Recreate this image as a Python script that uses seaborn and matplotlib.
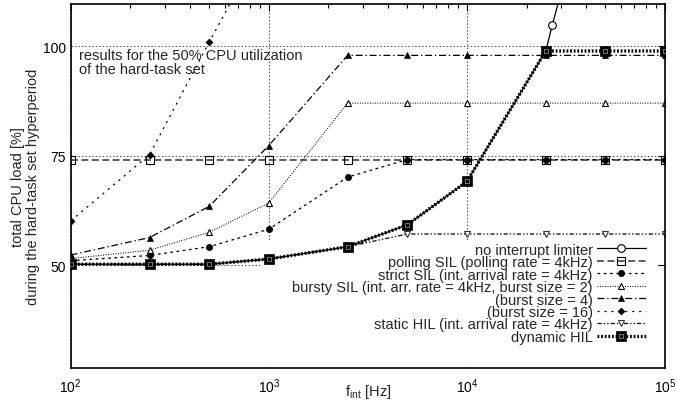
import matplotlib
matplotlib.use('Agg')
import matplotlib.pyplot as plt
import seaborn as sns
import pandas as pd
from matplotlib.legend_handler import HandlerTuple
from matplotlib.patches import Rectangle

# interrupt frequencies [Hz]
freq = [100, 250, 500, 1000, 2500, 5000, 10000, 25000, 50000, 100000]
no_limiter_freq = [100, 250, 500, 1000, 2500, 5000, 10000, 25000, 27000, 50000]
burst16_freq = [100, 250, 500, 1000]

# total CPU load [%]
no_limiter = [50.2, 50.2, 50.2, 51.4, 54.2, 59.2, 69.1, 98.9, 104.9, 150.0]
polling_sil = [74.1, 74.1, 74.1, 74.1, 74.1, 74.1, 74.1, 74.1, 74.1, 74.1]
strict_sil = [51.0, 52.2, 54.2, 58.2, 70.1, 74.1, 74.1, 74.1, 74.1, 74.1]
bursty_2 = [51.5, 53.4, 57.5, 64.2, 87.0, 87.0, 87.0, 87.0, 87.0, 87.0]
bursty_4 = [52.3, 56.3, 63.4, 77.3, 97.9, 97.9, 97.9, 97.9, 97.9, 97.9]
bursty_16 = [60.1, 75.2, 100.9, 126.0]
static_hil = [50.2, 50.2, 50.2, 51.4, 54.2, 57.1, 57.1, 57.1, 57.1, 57.1]
dynamic_hil = [50.2, 50.2, 50.2, 51.4, 54.2, 59.2, 69.1, 98.9, 98.9, 98.9]

labels = [
    'no interrupt limiter',
    'polling SIL (polling rate = 4kHz)',
    'strict SIL (int. arrival rate = 4kHz)',
    'bursty SIL (int. arr. rate = 4kHz, burst size = 2)',
    '(burst size = 4)',
    '(burst size = 16)',
    'static HIL (int. arrival rate = 4kHz)',
    'dynamic HIL',
]

sns.set_style('white')
plt.rcParams['font.family'] = ['Liberation Sans', 'DejaVu Sans']
plt.rcParams['mathtext.fontset'] = 'custom'
plt.rcParams['mathtext.rm'] = 'Liberation Sans'
plt.rcParams['mathtext.it'] = 'Liberation Sans:italic'
plt.rcParams['lines.scale_dashes'] = False

FS = 10.5

fig = plt.figure(figsize=(6.77, 4.06), dpi=100)
ax = fig.add_axes([0.1044, 0.0911, 0.8779, 0.8973])

series = [
    # x, y, style
    (no_limiter_freq, no_limiter, dict(linestyle='-', lw=0.9, marker='o', ms=5.5, mfc='white', mec='black', mew=0.8)),
    (freq, polling_sil, dict(linestyle=(0, (5, 2.5)), lw=1.3, marker='s', ms=5.5, mfc='none', mec='black', mew=0.8,
                             color='#505050')),
    (freq, strict_sil, dict(linestyle=(0, (2, 2.5)), lw=0.9, marker='o', ms=4.5, mfc='black', mec='black', mew=0.5)),
    (freq, bursty_2, dict(linestyle=(0, (0.7, 1.1)), lw=0.8, marker='^', ms=5, mfc='white', mec='black', mew=0.8)),
    (freq, bursty_4, dict(linestyle=(0, (5, 2, 1, 2)), lw=0.9, marker='^', ms=4.5, mfc='black', mec='black', mew=0.5)),
    (burst16_freq, bursty_16, dict(linestyle=(0, (1.5, 3.5)), lw=0.9, marker='D', ms=3.5, mfc='black', mec='black', mew=0.5)),
    (freq, static_hil, dict(linestyle=(0, (3, 1.5, 1, 1.5, 1, 1.5)), lw=0.9, marker='v', ms=5, mfc='white', mec='#333333', mew=0.8)),
    (freq, dynamic_hil, dict(linestyle=(0, (1.3, 1.3)), lw=2.4, marker='s', ms=7, mfc='black', mec='black', mew=0.5)),
]

handles = []
for (x, y, style), label in zip(series, labels):
    style = dict(style)
    color = style.pop('color', 'black')
    df = pd.DataFrame({'f': x, 'load': y})
    sns.lineplot(data=df, x='f', y='load', ax=ax, color=color, label=label,
                 estimator=None, legend=False, zorder=2, **style)
    handles.append(ax.lines[-1])

# small inner mark of the dynamic HIL boxes
df = pd.DataFrame({'f': freq, 'load': dynamic_hil})
sns.lineplot(data=df, x='f', y='load', ax=ax, color='black', estimator=None, legend=False,
             linestyle='none', marker='s', ms=2.2, mfc='none', mec='#8a8a8a', mew=0.6, zorder=3)
handles[-1] = (handles[-1], ax.lines[-1])

ax.set_xscale('log')
ax.set_xlim(100, 100000)
ax.set_ylim(26.5, 109.7)
ax.set_yticks([50, 75, 100])
ax.set_axisbelow(True)
ax.grid(True, which='major', linestyle=(0, (1, 1.5)), color='#444444', lw=0.7)
ax.grid(False, which='minor')

ax.tick_params(which='both', direction='in', top=True, right=True, colors='black', labelsize=10)
ax.tick_params(which='major', length=5, width=0.8)
ax.tick_params(which='minor', length=3, width=0.8)
ax.tick_params(axis='x', pad=6)
for s in ax.spines.values():
    s.set_linewidth(1.2)
    s.set_color('black')

ax.set_xlabel(r'f$_{\mathrm{int}}$ [Hz]', fontsize=FS, labelpad=-9)
ax.set_ylabel('total CPU load [%]\nduring the hard-task set hyperperiod', fontsize=FS,
              labelpad=2, linespacing=1.1)

ax.text(0.014, 0.878, 'results for the 50% CPU utilization\nof the hard-task set',
        transform=ax.transAxes, fontsize=FS, va='top', ha='left', linespacing=1.0)

# opaque key area (hides the grid behind the key, like the original)
ax.add_patch(Rectangle((0.322, 0.008), 0.666, 0.338, transform=ax.transAxes,
                       facecolor='white', edgecolor='none', zorder=1))

leg = ax.legend(handles, labels, loc='lower right', bbox_to_anchor=(0.99, 0.03),
                markerfirst=False, fontsize=FS, handlelength=3.36, handletextpad=0.3,
                labelspacing=-0.104, borderpad=0.4, frameon=False,
                numpoints=1, handler_map={tuple: HandlerTuple(ndivide=1, pad=0)})

fig.savefig('out.png', dpi=100)
